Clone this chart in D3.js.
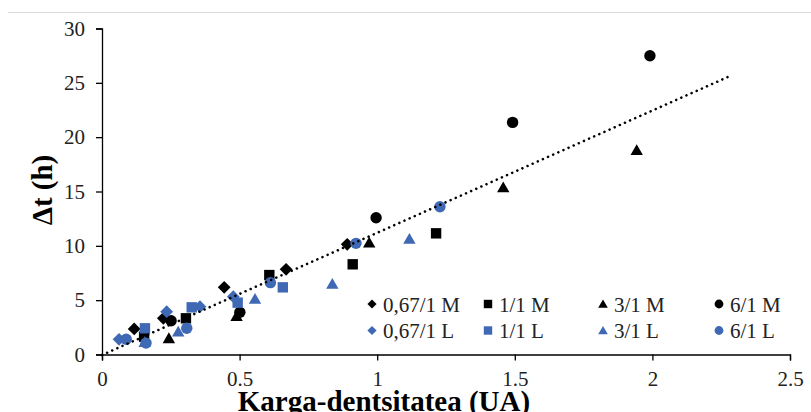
<!DOCTYPE html>
<html>
<head>
<meta charset="utf-8">
<script src="https://cdn.jsdelivr.net/npm/d3@7"></script>
<style>
  body { margin: 0; background: #fff; }
  svg { display: block; font-family: "Liberation Serif", "Times New Roman", serif; }
</style>
</head>
<body>
<svg id="chart" width="811" height="412"></svg>
<script>
// series values [x, y]
var m067 = [[0.117, 2.35], [0.223, 3.33], [0.444, 6.18], [0.669, 7.84], [0.891, 10.14]];
var m11  = [[0.153, 1.64], [0.305, 3.33], [0.608, 7.31], [0.911, 8.30], [1.214, 11.15]];
var m31  = [[0.243, 1.49], [0.489, 3.54], [0.971, 10.29], [1.458, 15.38], [1.943, 18.81]];
var m61  = [[0.251, 3.11], [0.501, 3.88], [0.996, 12.59], [1.492, 21.36], [1.991, 27.49]];
var l067 = [[0.062, 1.40], [0.235, 3.94], [0.356, 4.40], [0.477, 5.32]];
var l11  = [[0.156, 2.41], [0.326, 4.34], [0.493, 4.77], [0.657, 6.18]];
var l31  = [[0.155, 1.15], [0.277, 2.10], [0.556, 5.11], [0.837, 6.49], [1.117, 10.63]];
var l61  = [[0.088, 1.40], [0.160, 1.05], [0.308, 2.41], [0.612, 6.61], [0.923, 10.23], [1.228, 13.60]];

var seriesNames = ["0,67/1 M", "1/1 M", "3/1 M", "6/1 M", "0,67/1 L", "1/1 L", "3/1 L", "6/1 L"];
var seriesData = [m067, m11, m31, m61, l067, l11, l31, l61];
var seriesShape = ["diamond", "square", "triangle", "circle", "diamond", "square", "triangle", "circle"];
var seriesColor = ["#000000", "#000000", "#000000", "#000000", "#3f69b4", "#3f69b4", "#3f69b4", "#3f69b4"];

var xTicks = [0, 0.5, 1, 1.5, 2, 2.5];
var yTicks = [0, 5, 10, 15, 20, 25, 30];

// linear trend line
var trendSlope = 11.25;
var trendIntercept = -0.05;
var trendRange = [0, 2.28];

var svg = d3.select("#chart");

var x = d3.scaleLinear().domain([0, 2.5]).range([102, 790]);
var y = d3.scaleLinear().domain([0, 30]).range([354.5, 28.5]);

// light border line at top
svg.append("line")
  .attr("x1", 8).attr("x2", 811)
  .attr("y1", 12.5).attr("y2", 12.5)
  .attr("stroke", "#d9d9d9").attr("stroke-width", 1);

// axes
var xAxis = svg.append("g")
  .attr("transform", "translate(0," + y(0) + ")")
  .call(d3.axisBottom(x).tickValues(xTicks).tickSize(6).tickPadding(11)
    .tickFormat(function(d) { return d; }));
var yAxis = svg.append("g")
  .attr("transform", "translate(" + x(0) + ",0)")
  .call(d3.axisLeft(y).tickValues(yTicks).tickSize(6).tickPadding(11));

[xAxis, yAxis].forEach(function(g) {
  g.select(".domain").attr("stroke", "#000").attr("stroke-width", 1.3);
  g.selectAll(".tick line").attr("stroke", "#000").attr("stroke-width", 1.3);
  g.selectAll(".tick text")
    .attr("fill", "#222")
    .style("font-family", "Liberation Serif")
    .style("font-size", "21px");
});

// axis titles
svg.append("text")
  .attr("x", 384).attr("y", 411)
  .attr("text-anchor", "middle")
  .style("font-size", "29px").style("font-weight", "bold")
  .text("Karga-dentsitatea (UA)");

svg.append("text")
  .attr("transform", "translate(52,190) rotate(-90)")
  .attr("text-anchor", "middle")
  .style("font-size", "29px").style("font-weight", "bold")
  .text("\u0394t (h)");

// marker shapes
function shapePath(shape, s) {
  if (shape == "diamond") {
    return "M0," + (-s) + "L" + s + ",0L0," + s + "L" + (-s) + ",0Z";
  } else if (shape == "square") {
    return "M" + (-s) + "," + (-s) + "h" + (2 * s) + "v" + (2 * s) + "h" + (-2 * s) + "Z";
  } else if (shape == "triangle") {
    var h = s * 1.75;
    return "M0," + (-h * 0.55) + "L" + s + "," + (h * 0.45) + "L" + (-s) + "," + (h * 0.45) + "Z";
  } else {
    return "M" + (-s) + ",0A" + s + "," + s + " 0 1,0 " + s + ",0A" + s + "," + s + " 0 1,0 " + (-s) + ",0Z";
  }
}
var plotSize = { diamond: 6.4, square: 5.2, triangle: 6.2, circle: 5.7 };
var legendSize = { diamond: 4.6, square: 4.2, triangle: 4.8, circle: 4.4 };

// points
seriesData.forEach(function(data, k) {
  svg.append("g").selectAll("path")
    .data(data)
    .enter()
    .append("path")
    .attr("d", shapePath(seriesShape[k], plotSize[seriesShape[k]]))
    .attr("transform", function(d) { return "translate(" + x(d[0]) + "," + y(d[1]) + ")"; })
    .attr("fill", seriesColor[k]);
});

// trend line (drawn above the markers)
svg.append("line")
  .attr("x1", x(trendRange[0])).attr("y1", y(trendSlope * trendRange[0] + trendIntercept))
  .attr("x2", x(trendRange[1])).attr("y2", y(trendSlope * trendRange[1] + trendIntercept))
  .attr("stroke", "#000")
  .attr("stroke-width", 2.6)
  .attr("stroke-linecap", "round")
  .attr("stroke-dasharray", "0.01 5.6");

// legend: 2 rows x 4 columns
var legX = [372, 488, 603, 719];
var legY = [304, 330.5];
seriesNames.forEach(function(name, k) {
  var cx = legX[k % 4], cy = legY[Math.floor(k / 4)];
  svg.append("path")
    .attr("d", shapePath(seriesShape[k], legendSize[seriesShape[k]]))
    .attr("transform", "translate(" + cx + "," + cy + ")")
    .attr("fill", seriesColor[k]);
  svg.append("text")
    .attr("x", cx + 11).attr("y", cy + 7.5)
    .attr("fill", "#222")
    .style("font-size", "21px")
    .text(name);
});
</script>
</body>
</html>
